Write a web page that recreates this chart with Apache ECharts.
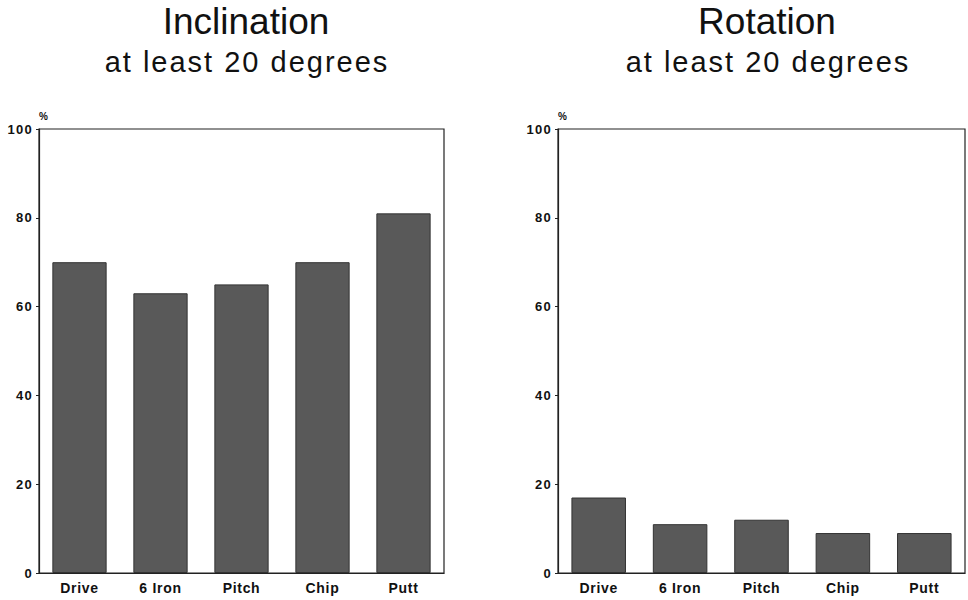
<!DOCTYPE html>
<html><head><meta charset="utf-8">
<script src="https://cdn.jsdelivr.net/npm/echarts@6/dist/echarts.min.js"></script>
<style>
html,body{margin:0;padding:0;background:#fff}#c{width:968px;height:600px}
#c svg text[style*="29px"], #c svg text[font-size="29"], #c svg text[font-size="29px"]{letter-spacing:2px}
#c svg text[style*="14px"], #c svg text[font-size="14"], #c svg text[font-size="14px"]{letter-spacing:0.7px}
#c svg text[style*="13px"], #c svg text[font-size="13"], #c svg text[font-size="13px"]{letter-spacing:1.3px}
</style>
</head><body><div id="c"></div>
<script>
const categories = ['Drive', '6 Iron', 'Pitch', 'Chip', 'Putt'];
const inclinationValues = [70, 63, 65, 70, 81];
const rotationValues = [17, 11, 12, 9, 9];
const yTicks = [0, 20, 40, 60, 80, 100];
const titles = [
  { main: 'Inclination', sub: 'at least 20 degrees' },
  { main: 'Rotation', sub: 'at least 20 degrees' }
];

const chart = echarts.init(document.getElementById('c'), null, { renderer: 'svg' });
const FONT = 'Liberation Sans, Arial, sans-serif';
const grids = [
  { left: 39, right: 524, top: 129, bottom: 27, show: true, borderColor: '#222', borderWidth: 1.2, backgroundColor: '#fff' },
  { left: 558, right: 3, top: 129, bottom: 27, show: true, borderColor: '#222', borderWidth: 1.2, backgroundColor: '#fff' }
];
function xAxis(i) {
  return { type: 'category', gridIndex: i, data: categories,
    axisLine: { lineStyle: { color: '#222', width: 1.2 } }, axisTick: { show: false },
    axisLabel: { margin: 8, fontFamily: FONT, fontWeight: 'bold', fontSize: 14, color: '#111' } };
}
function yAxis(i) {
  return { type: 'value', gridIndex: i, min: 0, max: 100, interval: 20,
    name: '%', nameLocation: 'end', nameGap: 8,
    nameTextStyle: { fontFamily: FONT, fontWeight: 'bold', fontSize: 10, color: '#111', align: 'left', padding: [0, 0, 0, 0] },
    axisLine: { show: true, lineStyle: { color: '#222', width: 1.2 } },
    axisTick: { show: true, length: 3, lineStyle: { color: '#222' } },
    splitLine: { show: false },
    axisLabel: { margin: 6, formatter: v => yTicks.includes(v) ? String(v) : '',
      fontFamily: FONT, fontWeight: 'bold', fontSize: 13, color: '#111' } };
}
const barStyle = { color: '#595959', borderColor: '#333', borderWidth: 1 };
function titleEntry(text, x, top, size) {
  return { text: text, left: x, top: top, textAlign: 'center',
    textStyle: { fontFamily: FONT, fontWeight: 'normal', fontSize: size, color: '#111' } };
}
chart.setOption({
  animation: false,
  title: [
    titleEntry(titles[0].main, 241, -2, 37),
    titleEntry(titles[0].sub, 242, 42, 29),
    titleEntry(titles[1].main, 762, -2, 37),
    titleEntry(titles[1].sub, 763, 42, 29)
  ],
  grid: grids,
  xAxis: [xAxis(0), xAxis(1)],
  yAxis: [yAxis(0), yAxis(1)],
  series: [
    { type: 'bar', xAxisIndex: 0, yAxisIndex: 0, data: inclinationValues, barWidth: '67%', itemStyle: barStyle },
    { type: 'bar', xAxisIndex: 1, yAxisIndex: 1, data: rotationValues, barWidth: '67%', itemStyle: barStyle }
  ]
});
</script></body></html>
